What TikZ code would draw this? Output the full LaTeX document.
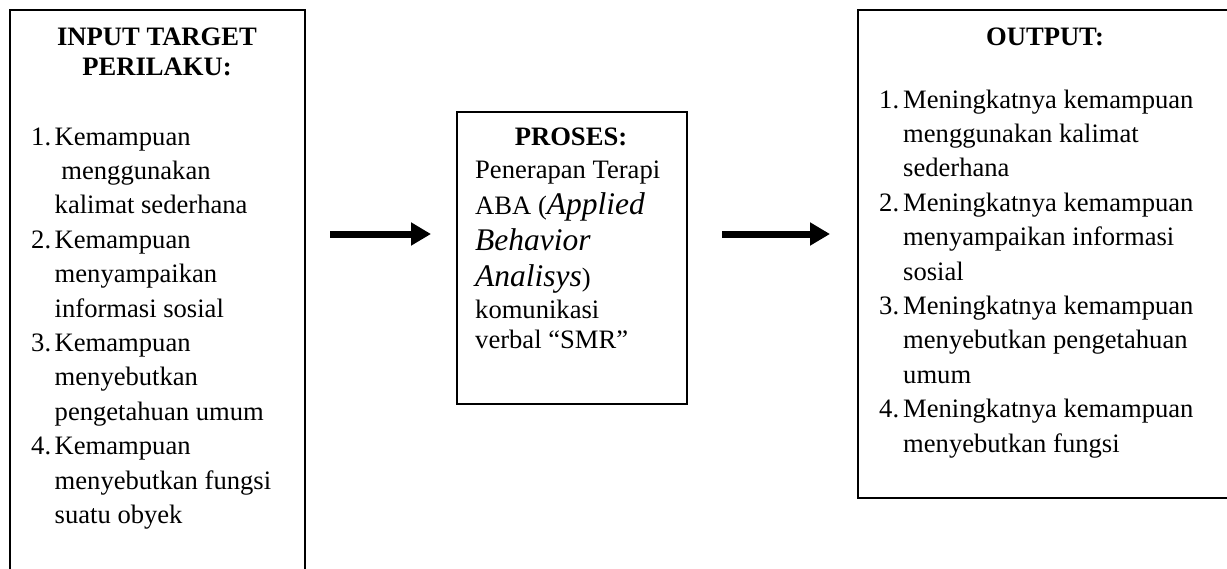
\documentclass[tikz,border=0pt]{standalone}
\usepackage{fontspec}
\setmainfont{Liberation Serif}[
  BoldFont={Liberation Serif Bold},
  ItalicFont={Liberation Serif Italic},
  BoldItalicFont={Liberation Serif Bold Italic}]
\usetikzlibrary{arrows.meta}

\begin{document}
\begin{tikzpicture}[x=1pt,y=-1pt,
  frame/.style={draw=black, line width=1.6pt, anchor=north west, inner sep=0pt},
  body/.style={inner sep=0pt, anchor=base west, font=\fontsize{26.6}{34.4}\selectfont},
  heading/.style={inner sep=0pt, anchor=base, font=\bfseries\fontsize{26.6}{30}\selectfont},
  flow/.style={line width=7pt, -{Triangle[length=20pt,width=22pt]}}]

\useasboundingbox (0,0) rectangle (1227,568);
\fill[white] (0,0) rectangle (1227,568);

% the three boxes (the outer two run past the edge of the page)
\begin{scope}
  \clip (0,0) rectangle (1227,568);
  \node[frame, minimum width=295pt, minimum height=620pt] (inbox) at (9,9) {};
  \node[frame, minimum width=230pt, minimum height=292pt] (procbox) at (456,111) {};
  \node[frame, minimum width=400pt, minimum height=488pt] (outbox) at (857,9) {};
\end{scope}

% input box
\node[heading] (inhead1) at (157,45) {INPUT TARGET};
\node[heading] (inhead2) at (157,75) {PERILAKU:};
\node[body] (inlist) at (31,145) {%
\begin{tabular}[t]{@{}l@{}l@{}}
\makebox[23.5pt][l]{1.} & Kemampuan\\
 & \hspace{6.7pt}menggunakan\\
 & kalimat sederhana\\
\makebox[23.5pt][l]{2.} & Kemampuan\\
 & menyampaikan\\
 & informasi sosial\\
\makebox[23.5pt][l]{3.} & Kemampuan\\
 & menyebutkan\\
 & pengetahuan umum\\
\makebox[23.5pt][l]{4.} & Kemampuan\\
 & menyebutkan fungsi\\
 & suatu obyek
\end{tabular}};

% process box
\node[heading] (prochead) at (571,145) {PROSES:};
\node[body] (p1) at (475,178) {Penerapan Terapi};
\node[body] (p2) at (475,214) {ABA (\textit{\fontsize{31.5}{36}\selectfont Applied}};
\node[body] (p3) at (475,250) {\textit{\fontsize{31.5}{36}\selectfont Behavior}};
\node[body] (p4) at (475,286) {\textit{\fontsize{31.5}{36}\selectfont Analisys})};
\node[body] (p5) at (475,318) {komunikasi};
\node[body] (p6) at (475,348) {verbal “SMR”};

% output box
\node[heading] (outhead) at (1045,45) {OUTPUT:};
\node[body] (outlist) at (879,108) {%
\begin{tabular}[t]{@{}l@{}l@{}}
\makebox[24pt][l]{1.} & Meningkatnya kemampuan\\
 & menggunakan kalimat\\
 & sederhana\\
\makebox[24pt][l]{2.} & Meningkatnya kemampuan\\
 & menyampaikan informasi\\
 & sosial\\
\makebox[24pt][l]{3.} & Meningkatnya kemampuan\\
 & menyebutkan pengetahuan\\
 & umum\\
\makebox[24pt][l]{4.} & Meningkatnya kemampuan\\
 & menyebutkan fungsi
\end{tabular}};

% flow arrows
\coordinate (a1s) at (330,234);
\coordinate (a1e) at (431,234);
\coordinate (a2s) at (722,234);
\coordinate (a2e) at (830,234);
\draw[flow] (a1s) -- (a1e);
\draw[flow] (a2s) -- (a2e);
\end{tikzpicture}
\end{document}
